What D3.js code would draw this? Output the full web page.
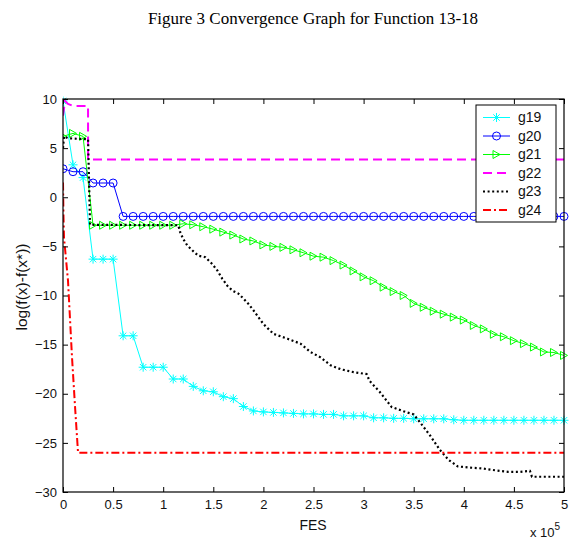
<!DOCTYPE html>
<html>
<head>
<meta charset="utf-8">
<script src="https://cdn.jsdelivr.net/npm/d3@7"></script>
<style>
html,body{margin:0;padding:0;background:#fff;}
svg{display:block;}
</style>
</head>
<body>
<svg id="chart" width="585" height="541"></svg>
<script>
// ---- data ----
const titleText = "Figure 3 Convergence Graph for Function 13-18";
const xTicks = [0, 0.5, 1, 1.5, 2, 2.5, 3, 3.5, 4, 4.5, 5];
const yTicks = [10, 5, 0, -5, -10, -15, -20, -25, -30];
const seriesNames = ["g19", "g20", "g21", "g22", "g23", "g24"];

const fesX = [0,0.1,0.2,0.3,0.4,0.5,0.6,0.7,0.8,0.9,1.0,1.1,1.2,1.3,1.4,1.5,1.6,1.7,1.8,1.9,2.0,
  2.1,2.2,2.3,2.4,2.5,2.6,2.7,2.8,2.9,3.0,3.1,3.2,3.3,3.4,3.5,3.6,3.7,3.8,3.9,4.0,
  4.1,4.2,4.3,4.4,4.5,4.6,4.7,4.8,4.9,5.0];

const g19 = [9.8,3.3,2.0,-6.3,-6.3,-6.3,-14.1,-14.1,-17.3,-17.3,-17.3,-18.5,-18.5,-19.25,-19.7,-19.8,-20.3,-20.5,-21.3,-21.75,-21.85,
  -21.9,-21.95,-22.0,-22.05,-22.05,-22.1,-22.1,-22.25,-22.25,-22.25,-22.45,-22.45,-22.5,-22.5,-22.55,-22.55,-22.55,-22.55,-22.65,-22.7,
  -22.7,-22.7,-22.7,-22.7,-22.7,-22.7,-22.7,-22.7,-22.7,-22.7];

const g20 = [2.9,2.6,2.6,1.45,1.45,1.45,-1.95,-1.95,-1.95,-1.95,-1.95,-1.95,-1.95,-1.95,-1.95,-1.95,-1.95,-1.95,-1.95,-1.95,-1.95,
  -1.95,-1.95,-1.95,-1.95,-1.95,-1.95,-1.95,-1.95,-1.95,-1.95,-1.95,-1.95,-1.95,-1.95,-1.95,-1.95,-1.95,-1.95,-1.95,-1.95,
  -1.95,-1.95,-1.95,-1.95,-1.95,-1.95,-1.95,-1.95,-1.95,-1.95];

const g21 = [6.2,6.5,6.2,-2.85,-2.85,-2.85,-2.85,-2.85,-2.85,-2.85,-2.85,-2.85,-2.7,-2.8,-3.0,-3.25,-3.55,-3.85,-4.25,-4.45,-4.85,
  -5.0,-5.1,-5.35,-5.65,-6.0,-6.1,-6.45,-6.9,-7.5,-8.1,-8.5,-9.15,-9.6,-10.0,-10.8,-11.2,-11.6,-11.9,-12.2,-12.5,
  -13.05,-13.4,-13.95,-14.2,-14.6,-14.9,-15.25,-15.75,-15.8,-16.1];

const g22X = [0, 0.02, 0.05, 0.1, 0.25, 0.25, 5];
const g22 = [8.3, 9.8, 9.5, 9.3, 9.3, 3.85, 3.85];

const g23X = [0,0.01,0.05,0.25,0.27,1.15,1.17,1.2,1.24,1.29,1.35,1.42,1.49,1.54,1.59,1.64,1.69,1.75,1.8,1.85,1.9,1.95,2.0,
  2.1,2.24,2.37,2.47,2.57,2.67,2.77,2.9,3.03,3.06,3.16,3.28,3.42,3.5,3.57,3.66,3.76,3.85,3.94,4.04,4.18,4.32,4.44,4.56,4.66,4.68,5.0];
const g23 = [5.0,6.2,6.0,5.9,-2.8,-2.85,-3.57,-4.25,-4.9,-5.4,-5.95,-6.1,-6.8,-7.45,-8.3,-9.0,-9.5,-9.8,-10.3,-10.85,-11.5,-12.2,-12.9,
  -13.9,-14.4,-14.9,-15.75,-16.3,-17.1,-17.5,-17.8,-18.0,-18.7,-19.8,-21.35,-21.86,-22.1,-23.0,-24.2,-25.7,-26.75,-27.4,-27.5,-27.6,-27.8,-27.95,-27.95,-27.85,-28.45,-28.45];

const g24X = [0, 0.005, 0.01, 0.05, 0.09, 0.12, 0.15, 5];
const g24 = [1.5, -2.0, -4.1, -8.5, -16.3, -21.3, -26.0, -26.0];

// ---- layout ----
const svg = d3.select("#chart");
const L = 63, R = 564, T = 99, B = 492;
const x = d3.scaleLinear().domain([0, 5]).range([L, R]);
const y = d3.scaleLinear().domain([-30, 10]).range([B, T]);

const zip = (xs, ys) => xs.map((v, i) => [v, ys[i]]);

const series = [
  {name: "g19", data: zip(fesX, g19), color: "#00ffff", width: 1, dash: null, marker: "star"},
  {name: "g20", data: zip(fesX, g20), color: "#0000ff", width: 1, dash: null, marker: "circle"},
  {name: "g21", data: zip(fesX, g21), color: "#00ff00", width: 1, dash: null, marker: "tri"},
  {name: "g22", data: zip(g22X, g22), color: "#ff00ff", width: 2, dash: "9,5", marker: null},
  {name: "g23", data: zip(g23X, g23), color: "#000000", width: 2.2, dash: "2,2.6", marker: null},
  {name: "g24", data: zip(g24X, g24), color: "#ff0000", width: 2, dash: "8,3,2,3", marker: null}
];

svg.append("text").attr("x", 313).attr("y", 24).attr("text-anchor", "middle")
  .attr("font-family", "Liberation Serif, Times New Roman, serif").attr("font-size", 17)
  .attr("fill", "#000").text(titleText);

svg.append("defs").append("clipPath").attr("id", "clip")
  .append("rect").attr("x", L).attr("y", T - 6).attr("width", R - L + 6).attr("height", B - T + 6);

const line = d3.line().x(d => x(d[0])).y(d => y(d[1]));

function drawMarker(g, type, cx, cy, color) {
  if (type === "star") {
    const s = 4.5, d = 3.2;
    g.append("path").attr("d",
      `M${cx - s},${cy}L${cx + s},${cy}M${cx},${cy - s}L${cx},${cy + s}` +
      `M${cx - d},${cy - d}L${cx + d},${cy + d}M${cx - d},${cy + d}L${cx + d},${cy - d}`)
      .attr("stroke", color).attr("stroke-width", 1).attr("fill", "none");
  } else if (type === "circle") {
    g.append("circle").attr("cx", cx).attr("cy", cy).attr("r", 4)
      .attr("stroke", color).attr("stroke-width", 1).attr("fill", "none");
  } else if (type === "tri") {
    g.append("path").attr("d", `M${cx - 3.5},${cy - 4}L${cx + 3.5},${cy}L${cx - 3.5},${cy + 4}Z`)
      .attr("stroke", color).attr("stroke-width", 1).attr("fill", "none");
  }
}

const plot = svg.append("g").attr("clip-path", "url(#clip)");
series.forEach(s => {
  plot.append("path").datum(s.data).attr("d", line)
    .attr("fill", "none").attr("stroke", s.color).attr("stroke-width", s.width)
    .attr("stroke-dasharray", s.dash);
  if (s.marker) {
    const mg = plot.append("g");
    s.data.forEach(d => drawMarker(mg, s.marker, x(d[0]), y(d[1]), s.color));
  }
});

// axes (MATLAB style, ticks inside, box)
const axFont = "Liberation Sans, Arial, Helvetica, sans-serif";
const axB = svg.append("g").attr("transform", `translate(0,${B})`)
  .call(d3.axisBottom(x).tickValues(xTicks).tickSize(-5).tickPadding(8).tickFormat(d3.format("~g")));
const axL = svg.append("g").attr("transform", `translate(${L},0)`)
  .call(d3.axisLeft(y).tickValues(yTicks).tickSize(-5).tickPadding(6).tickFormat(d3.format("~g")));
const axT = svg.append("g").attr("transform", `translate(0,${T})`)
  .call(d3.axisTop(x).tickValues(xTicks).tickSize(-5).tickFormat(""));
const axR = svg.append("g").attr("transform", `translate(${R},0)`)
  .call(d3.axisRight(y).tickValues(yTicks).tickSize(-5).tickFormat(""));
[axB, axL, axT, axR].forEach(a => {
  a.select(".domain").remove();
  a.selectAll("line").attr("stroke", "#000");
  a.selectAll("text").attr("font-family", axFont).attr("font-size", 13).attr("fill", "#111");
});
axB.selectAll(".tick text").attr("dy", "0.71em");
svg.append("rect").attr("x", L).attr("y", T).attr("width", R - L).attr("height", B - T)
  .attr("fill", "none").attr("stroke", "#000").attr("stroke-width", 1.2);

svg.append("text").attr("x", 313).attr("y", 530).attr("text-anchor", "middle")
  .attr("font-family", axFont).attr("font-size", 14).attr("fill", "#111").text("FES");
const sci = svg.append("text").attr("x", 530).attr("y", 537)
  .attr("font-family", axFont).attr("font-size", 13).attr("fill", "#111");
sci.append("tspan").text("x 10");
sci.append("tspan").attr("dy", -7).attr("font-size", 10).text("5");

svg.append("text").attr("transform", "translate(27,287) rotate(-90)").attr("text-anchor", "middle")
  .attr("font-family", axFont).attr("font-size", 15.5).attr("fill", "#111").text("log(f(x)-f(x*))");

// legend
const lg = svg.append("g");
lg.append("rect").attr("x", 476).attr("y", 105).attr("width", 80).attr("height", 117)
  .attr("fill", "#fff").attr("stroke", "#000").attr("stroke-width", 1);
series.forEach((s, i) => {
  const yy = 117.5 + i * 18.5;
  lg.append("line").attr("x1", 483).attr("x2", 510).attr("y1", yy).attr("y2", yy)
    .attr("stroke", s.color).attr("stroke-width", s.width).attr("stroke-dasharray", s.dash);
  if (s.marker) drawMarker(lg, s.marker, 496.5, yy, s.color);
  lg.append("text").attr("x", 518).attr("y", yy).attr("dy", "0.35em")
    .attr("font-family", axFont).attr("font-size", 14).attr("fill", "#111").text(s.name);
});
</script>
</body>
</html>
